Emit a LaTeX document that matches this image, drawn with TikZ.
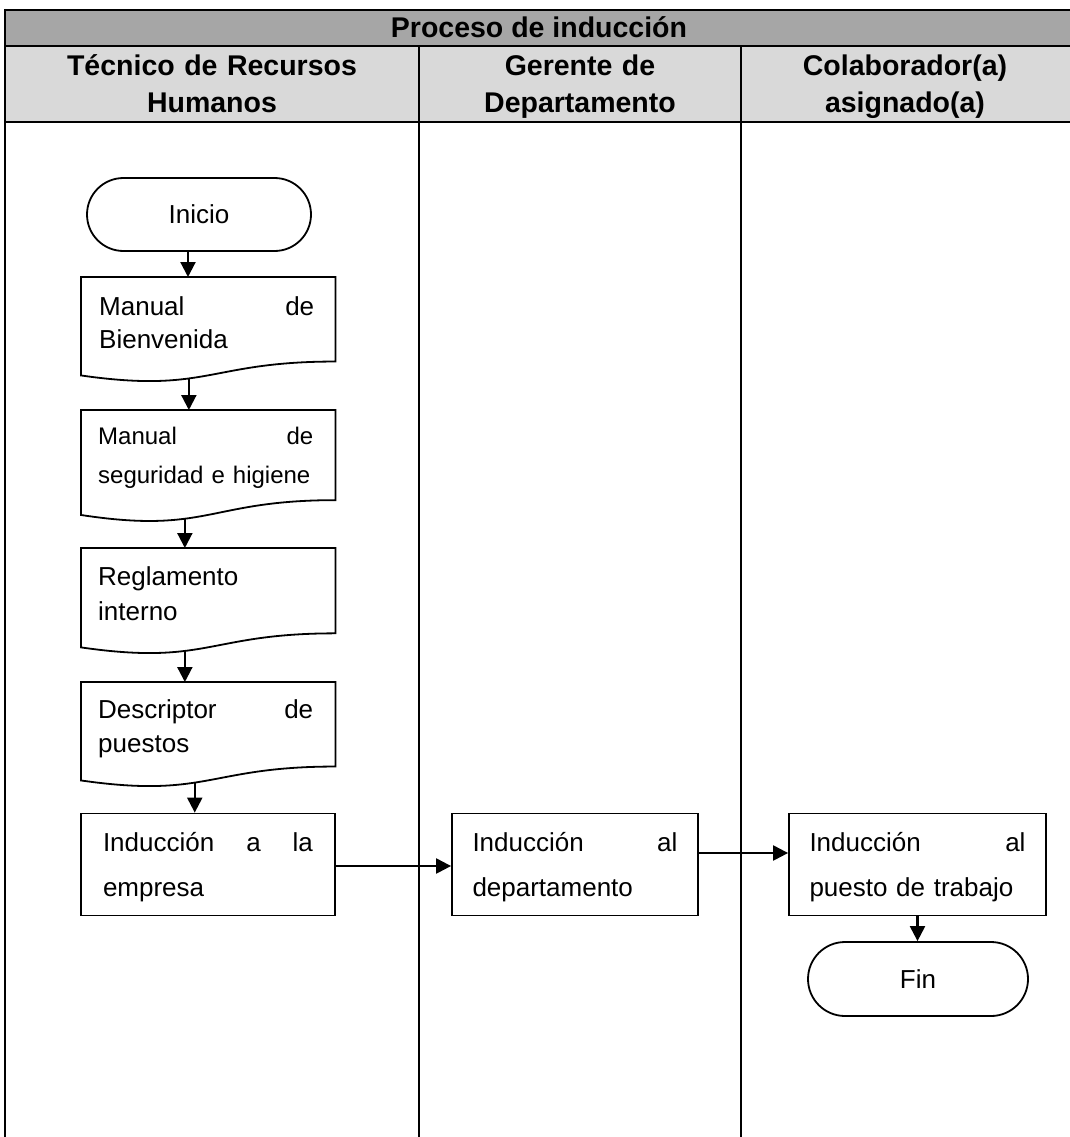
\documentclass[tikz,border=0pt]{standalone}
\usepackage{fontspec}
\setmainfont{Liberation Sans}
\usetikzlibrary{arrows.meta,calc,shapes.misc}

\definecolor{titlegray}{HTML}{A6A6A6}
\definecolor{headgray}{HTML}{D9D9D9}

\tikzset{
  border/.style={line width=2.2pt},
  outline/.style={line width=1.8pt},
  flow/.style={line width=2.2pt, -{Triangle[length=15pt,width=15pt]}},
  terminal/.style={draw, outline, rounded rectangle, inner sep=0pt,
    minimum height=73pt, font=\fontsize{26}{30}\selectfont},
  process/.style={draw, outline, inner sep=0pt, minimum height=102pt,
    align=left, font=\fontsize{26}{45}\selectfont},
  docbox/.style={draw=none, inner sep=0pt, minimum width=254pt, anchor=north west},
  doctext/.style={inner sep=0pt, anchor=base west, text width=215pt, align=left},
  headtext/.style={inner sep=0pt, anchor=base, align=center,
    font=\bfseries\fontsize{28.5}{37}\selectfont},
}

% document symbol: flat top, wavy bottom edge; #2 is the curve position of
% the outgoing connector point #3
\newcommand\docoutline[3]{%
  \draw[outline] (#1.north west) -- (#1.north east)
    -- ($(#1.north east)!0.802!(#1.south east)$)
    .. controls ($(#1.north)!0.802!(#1.south)$) and ($(#1.north)!1.1075!(#1.south)$)
    .. ($(#1.north west)!0.934!(#1.south west)$) coordinate[pos=#2] (#3)
    -- cycle;}

\begin{document}
\begin{tikzpicture}[x=1pt, y=-1pt]
  \useasboundingbox (0,0) rectangle (1070,1137);

  % swimlane table
  \fill[titlegray] (5,10) rectangle (1070,46);
  \fill[headgray] (5,46) rectangle (1070,122);
  \draw[border] (5,10) -- (1070,10);
  \draw[border] (5,46) -- (1070,46);
  \draw[border] (5,122) -- (1070,122);
  \draw[border] (5,9) -- (5,1137);
  \draw[border] (419,46) -- (419,1137);
  \draw[border] (741,46) -- (741,1137);

  \node[headtext] (title) at (539,38) {Proceso de inducción};
  \node[headtext, text width=400pt] (lane1) at (212,76) {Técnico de Recursos\\Humanos};
  \node[headtext, text width=310pt] (lane2) at (580,76) {Gerente de\\Departamento};
  \node[headtext, text width=310pt] (lane3) at (905,76) {Colaborador(a)\\asignado(a)};

  % flow elements
  \node[terminal, minimum width=224pt] (ini) at (199,214.5) {Inicio};

  \node[docbox, minimum height=105pt] (d1) at (81,277) {};
  \node[docbox, minimum height=112pt] (d2) at (81,410) {};
  \node[docbox, minimum height=106pt] (d3) at (81,548) {};
  \node[docbox, minimum height=105pt] (d4) at (81,682) {};
  \docoutline{d1}{0.60}{d1o}
  \docoutline{d2}{0.62}{d2o}
  \docoutline{d3}{0.62}{d3o}
  \docoutline{d4}{0.57}{d4o}

  \node[doctext, font=\fontsize{26}{33}\selectfont] (t1) at (99,315)
    {Manual\hfill de\\Bienvenida};
  \node[doctext, font=\fontsize{24}{39}\selectfont] (t2) at (98,444)
    {Manual\hfill de\\seguridad e higiene};
  \node[doctext, font=\fontsize{26}{35}\selectfont] (t3) at (98,585)
    {Reglamento\\interno};
  \node[doctext, font=\fontsize{26}{34}\selectfont] (t4) at (98,718)
    {Descriptor\hfill de\\puestos};

  \node[process, minimum width=254pt, text width=210pt] (p1) at (208,864.5)
    {\strut Inducción\hfill a\hfill la\\empresa\strut};
  \node[process, minimum width=246pt, text width=205pt] (p2) at (575,864.5)
    {\strut Inducción\hfill al\\departamento\strut};
  \node[process, minimum width=257pt, text width=216pt] (p3) at (917.5,864.5)
    {\strut Inducción\hfill al\\puesto de trabajo\strut};

  \node[terminal, minimum width=220pt, minimum height=74pt] (fin) at (918,979) {Fin};

  % connectors
  \draw[flow] ([xshift=-11pt]ini.south) -- ([xshift=-11pt]ini.south |- d1.north);
  \draw[flow] (d1o) -- (d1o |- d2.north);
  \draw[flow] (d2o) -- (d2o |- d3.north);
  \draw[flow] (d3o) -- (d3o |- d4.north);
  \draw[flow] (d4o) -- (d4o |- p1.north);
  \draw[flow] ([yshift=-1.5pt]p1.east) -- ([yshift=-1.5pt]p1.east -| p2.west);
  \draw[flow] ([yshift=11.5pt]p2.east) -- ([yshift=11.5pt]p2.east -| p3.west);
  \draw[flow] (p3.south) -- (p3.south |- fin.north);
\end{tikzpicture}
\end{document}
